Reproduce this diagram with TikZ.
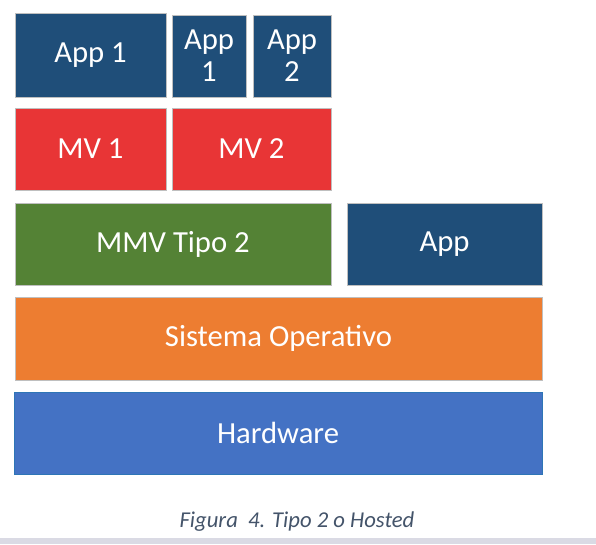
\documentclass[tikz,border=0pt]{standalone}
\usepackage{fontspec}
\setmainfont{Carlito}
\begin{document}
\begin{tikzpicture}[x=0.75pt,y=-0.75pt,
  blk/.style={draw=white!75!black,line width=0.6pt,inner sep=0pt,text=white,font=\fontsize{23}{24}\selectfont,align=center},
  sz/.style 2 args={minimum width={#1*0.75pt},minimum height={#2*0.75pt}},
  dblue/.style={blk,fill=appblue},
  red/.style={blk,fill=mvred},
  green/.style={blk,fill=mmvgreen},
  orange/.style={blk,fill=soorange},
  hw/.style={blk,fill=hwblue,draw=hwedge}]
\definecolor{appblue}{HTML}{1F4E79}
\definecolor{mvred}{HTML}{E83536}
\definecolor{mmvgreen}{HTML}{548235}
\definecolor{soorange}{HTML}{ED7D31}
\definecolor{hwblue}{HTML}{4472C4}
\definecolor{hwedge}{HTML}{2E75B6}
\definecolor{captc}{HTML}{44546A}
\definecolor{band}{HTML}{DADAE4}
\useasboundingbox (0,0) rectangle (596,544);
\fill[white] (0,0) rectangle (596,544);
\fill[band] (0,538) rectangle (596,544);
\node[dblue,sz={151}{84}] (app1) at (90.5,55) {\raisebox{-2pt}{App 1}};
\node[dblue,sz={74}{82}] (sapp1) at (209,56) {App\\1};
\node[dblue,sz={78}{82}] (sapp2) at (292,56) {App\\2};
\node[red,sz={151}{82}] (mv1) at (90.5,149) {\raisebox{-2pt}{MV 1}};
\node[red,sz={159}{82}] (mv2) at (251.5,149) {\raisebox{-2pt}{MV 2}};
\node[green,sz={316}{82}] (mmv) at (173,244) {\raisebox{-2pt}{MMV Tipo 2}};
\node[dblue,sz={195}{82}] (app) at (444.5,244) {\raisebox{-2pt}{App}};
\node[orange,sz={527}{83}] (so) at (278.5,338.5) {\raisebox{-2pt}{Sistema Operativo}};
\node[hw,sz={528}{82}] (hw) at (278,433) {\raisebox{-2pt}{Hardware}};
\node[text=captc,font=\itshape\fontsize{17}{19}\selectfont] (cap) at (297,522) {Figura\ \ 4. Tipo 2 o Hosted};
\end{tikzpicture}
\end{document}
